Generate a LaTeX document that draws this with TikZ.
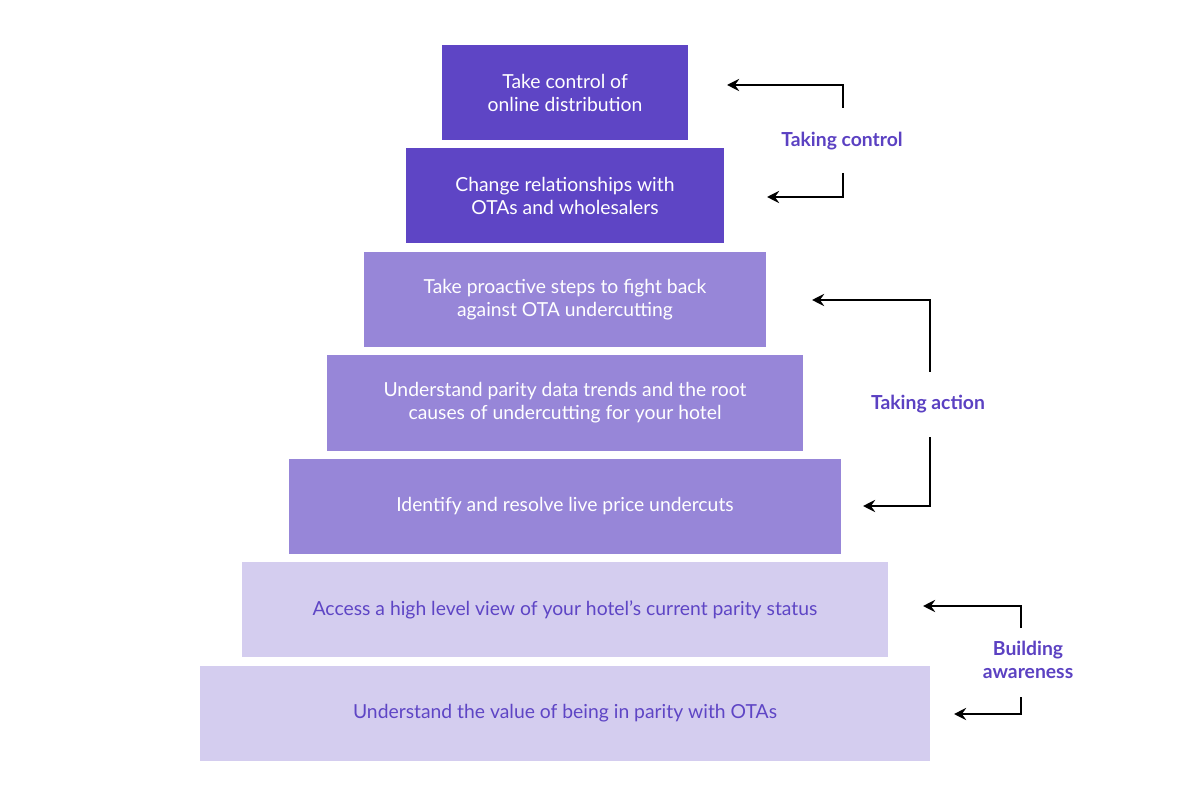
\documentclass[tikz,border=0pt]{standalone}
\usepackage{fontspec}
\setmainfont{Lato}
\usepackage[dvipsnames]{xcolor}
\usetikzlibrary{positioning,arrows.meta}

\definecolor{darkpurple}{HTML}{5E45C5}
\definecolor{midpurple}{HTML}{9786D8}
\definecolor{lightpurple}{HTML}{D4CDEF}
\definecolor{labelpurple}{HTML}{5B41C2}

\tikzset{
  stage/.style={rectangle,inner sep=0pt,minimum height=95\unitpx,align=center,
    font=\fontsize{11}{13.1}\selectfont},
  darkstage/.style={stage,fill=darkpurple,text=white},
  midstage/.style={stage,fill=midpurple,text=white},
  lightstage/.style={stage,fill=lightpurple,text=darkpurple},
  phase/.style={text=labelpurple,align=center,font=\fontsize{11}{13.1}\selectfont\bfseries},
  back/.style={draw=black,line width=0.8pt,-{Stealth[length=7pt,width=7pt,inset=2.5pt]}},
}
\newlength{\unitpx}
\setlength{\unitpx}{0.02cm}

\begin{document}
\begin{tikzpicture}[x=0.02cm,y=-0.02cm]
            \useasboundingbox (0,0) rectangle (1200,800);

            % pyramid, top to bottom
            \node[darkstage,minimum width=246\unitpx] (A) at (565,92.5) {Take control of\\online distribution};
            \node[darkstage,minimum width=318\unitpx] (B) at (565,196) {Change relationships with\\OTAs and wholesalers};
            \node[midstage,minimum width=402\unitpx] (C) at (565,299.5) {Take proactive steps to fight back\\against OTA undercutting};
            \node[midstage,minimum width=476\unitpx] (D) at (565,403) {Understand parity data trends and the root\\causes of undercutting for your hotel};
            \node[midstage,minimum width=552\unitpx] (E) at (565,506) {Identify and resolve live price undercuts};
            \node[lightstage,minimum width=646\unitpx] (F) at (565,609.5) {Access a high level view of your hotel's current parity status};
            \node[lightstage,minimum width=730\unitpx] (G) at (565,713) {Understand the value of being in parity with OTAs};

            % phases
            \node[phase] (control) at (842,141) {Taking control};
            \node[phase] (action) at (928,404) {Taking action};
            \node[phase] (aware) at (1028,660) {Building\\awareness};

            \coordinate (controlA) at (727,85);
            \coordinate (controlB) at (767,197);
            \coordinate (actionC) at (812,300);
            \coordinate (actionE) at (863,506);
            \coordinate (awareF) at (923,606);
            \coordinate (awareG) at (954,714);

            \draw[back] (843,108) |- (controlA);
            \draw[back] (843,173) |- (controlB);
            \draw[back] (930,372) |- (actionC);
            \draw[back] (930,437) |- (actionE);
            \draw[back] (1021,628) |- (awareF);
            \draw[back] (1021,697) |- (awareG);

          \end{tikzpicture}
\end{document}
